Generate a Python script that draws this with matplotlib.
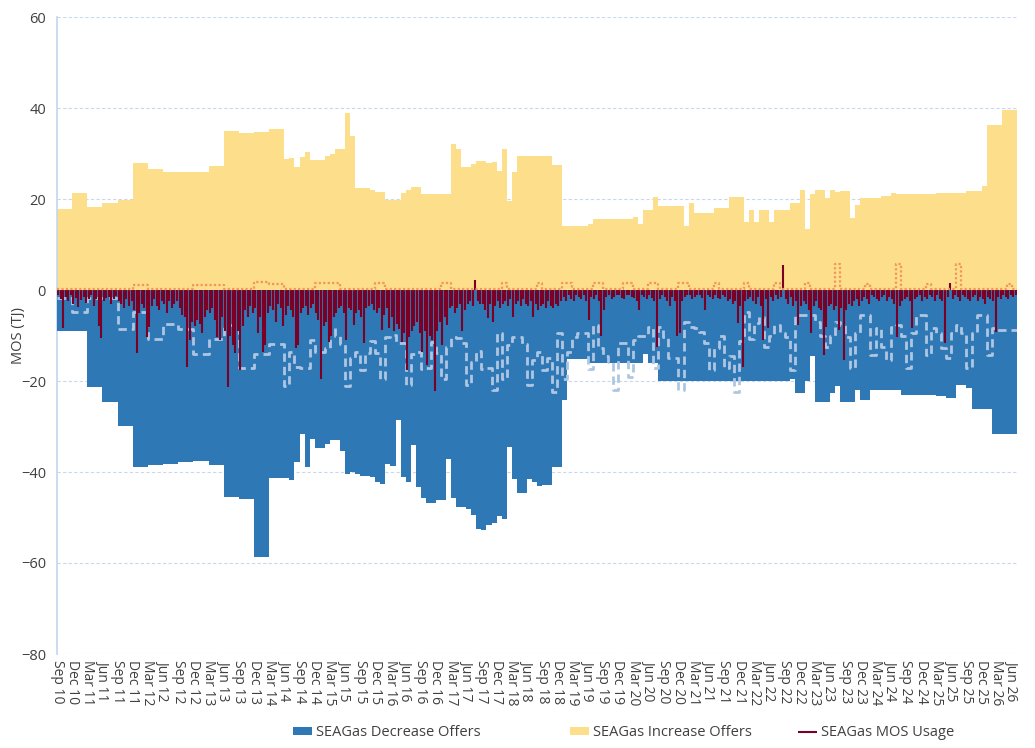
import numpy as np
import matplotlib
matplotlib.use("Agg")
import matplotlib.pyplot as plt

plt.rcParams['font.family'] = ['Open Sans', 'DejaVu Sans']

# monthly values, first month = Sep 2010, last month = Jun 2026
increase_offers = [
    17.8, 17.8, 17.8, 21.3, 21.3, 21.3, 18.2, 18.2, 18.2, 19.1, 19.1, 19.1,
    19.8, 19.8, 19.8, 27.9, 27.9, 27.9, 26.6, 26.6, 26.6, 25.9, 25.9, 25.9,
    25.9, 25.9, 25.9, 25.9, 25.9, 25.9, 27.2, 27.2, 27.2, 34.9, 34.9, 34.9,
    34.5, 34.5, 34.5, 34.7, 34.7, 34.7, 35.4, 35.4, 35.4, 28.8, 29.0, 27.0,
    29.2, 30.3, 28.6, 28.6, 28.6, 29.4, 29.9, 31.0, 31.0, 38.9, 33.8, 22.4,
    22.4, 22.4, 22.0, 21.5, 21.5, 19.8, 19.8, 19.8, 21.3, 22.0, 22.6, 22.6,
    21.1, 21.1, 21.1, 21.1, 21.1, 21.1, 32.1, 31.0, 27.0, 27.0, 27.7, 28.4,
    28.4, 27.9, 28.1, 26.2, 31.0, 19.6, 25.9, 29.4, 29.4, 29.4, 29.4, 29.4,
    29.4, 29.4, 27.5, 27.5, 14.1, 14.1, 14.1, 14.1, 14.1, 14.5, 15.6, 15.6,
    15.6, 15.6, 15.6, 15.6, 15.6, 15.6, 16.0, 14.5, 17.6, 17.6, 20.4, 18.5,
    18.5, 18.5, 18.5, 18.5, 14.1, 19.1, 16.9, 16.9, 16.9, 16.9, 18.0, 18.0,
    18.0, 20.4, 20.4, 20.4, 14.9, 17.6, 14.9, 17.6, 17.6, 14.9, 17.6, 17.6,
    17.6, 19.1, 19.1, 22.0, 13.4, 21.1, 22.0, 22.0, 20.2, 22.0, 21.5, 21.8,
    21.8, 15.8, 18.7, 20.2, 20.2, 20.2, 20.2, 20.6, 20.6, 21.3, 21.1, 21.1,
    21.1, 21.1, 21.1, 21.1, 21.1, 21.1, 21.3, 21.3, 21.3, 21.3, 21.3, 21.3,
    21.8, 21.8, 21.8, 22.9, 36.3, 36.3, 36.3, 39.6, 39.6, 39.6,
]

decrease_offers = [
    -9.0, -9.0, -9.0, -9.0, -9.0, -9.0, -21.3, -21.3, -21.3, -24.6, -24.6, -24.6,
    -29.9, -29.9, -29.9, -38.9, -38.9, -38.9, -38.5, -38.5, -38.5, -38.2, -38.2, -38.2,
    -37.8, -37.8, -37.8, -37.6, -37.6, -37.6, -38.5, -38.5, -38.5, -45.5, -45.5, -45.5,
    -45.9, -45.9, -45.9, -58.7, -58.7, -58.7, -41.3, -41.3, -41.3, -41.3, -41.8, -37.8,
    -31.7, -38.9, -32.8, -34.7, -34.7, -33.8, -33.0, -33.0, -35.4, -40.4, -40.0, -40.4,
    -40.9, -40.9, -41.1, -42.2, -42.6, -38.2, -38.7, -28.6, -41.1, -42.2, -34.1, -43.3,
    -45.7, -46.8, -46.8, -46.2, -46.2, -37.2, -45.7, -47.7, -47.7, -48.1, -49.5, -52.5,
    -52.7, -51.6, -51.2, -49.7, -50.3, -34.5, -41.5, -44.6, -44.6, -41.5, -42.2, -43.1,
    -42.9, -42.9, -38.9, -38.9, -24.2, -15.2, -15.2, -15.2, -15.2, -16.0, -16.0, -16.0,
    -16.0, -16.0, -16.0, -16.0, -16.0, -16.0, -16.0, -16.0, -14.1, -16.0, -16.0, -20.0,
    -20.0, -20.0, -20.0, -20.0, -20.0, -20.0, -20.0, -20.0, -20.0, -20.0, -20.0, -20.0,
    -20.0, -20.0, -20.0, -20.0, -20.0, -20.0, -20.0, -20.0, -20.0, -20.0, -20.0, -20.0,
    -20.0, -19.6, -22.6, -22.6, -20.0, -14.5, -24.6, -24.6, -24.6, -22.6, -21.1, -24.6,
    -24.6, -24.6, -22.0, -24.2, -24.2, -22.0, -22.0, -22.0, -22.0, -22.0, -22.0, -23.1,
    -23.1, -23.1, -23.1, -23.1, -23.1, -23.1, -23.3, -23.3, -23.7, -23.7, -20.9, -20.9,
    -21.5, -26.2, -26.2, -26.2, -26.2, -31.6, -31.6, -31.6, -31.6, -31.6,
]

# light dashed step series (no legend entry)
dashed_series = [
    -1.7, -1.7, -1.7, -4.9, -4.9, -4.9, -1.7, -1.7, -1.7, -1.7, -1.7, -1.7,
    -8.6, -8.6, -8.6, -4.8, -4.8, -4.8, -10.8, -10.8, -10.8, -7.5, -7.5, -7.5,
    -8.5, -8.5, -8.5, -14.0, -14.0, -14.0, -10.7, -10.7, -10.7, -7.7, -7.7, -7.7,
    -17.1, -17.1, -17.1, -14.0, -14.0, -14.0, -11.9, -11.9, -11.9, -21.0, -13.6, -17.0,
    -17.2, -17.2, -11.0, -13.6, -13.6, -12.8, -8.1, -10.0, -11.9, -21.1, -15.0, -13.6,
    -17.6, -13.9, -11.1, -13.9, -19.6, -10.4, -9.9, -11.6, -11.6, -20.9, -14.0, -13.6,
    -17.4, -17.2, -11.4, -13.9, -19.6, -12.5, -10.3, -10.6, -11.6, -20.9, -15.8, -13.4,
    -17.4, -17.2, -22.0, -9.4, -19.6, -12.0, -10.3, -10.4, -11.9, -20.9, -15.4, -13.6,
    -17.6, -15.0, -22.4, -9.5, -19.6, -13.6, -10.3, -9.4, -9.5, -17.4, -7.7, -12.8,
    -14.6, -15.9, -22.0, -11.6, -11.6, -19.1, -11.0, -10.0, -10.0, -8.1, -17.2, -8.1,
    -10.3, -15.0, -15.0, -22.0, -7.0, -8.1, -8.4, -9.2, -11.6, -17.6, -12.8, -10.0,
    -17.2, -14.6, -22.4, -11.2, -4.8, -10.8, -7.3, -5.9, -12.5, -10.0, -7.7, -9.5,
    -10.3, -17.6, -5.5, -5.5, -5.5, -5.5, -7.0, -10.0, -12.5, -10.0, -7.0, -7.7,
    -10.3, -17.2, -9.4, -5.5, -5.5, -14.3, -8.4, -12.5, -15.4, -8.1, -7.7, -10.0,
    -17.2, -9.5, -5.5, -5.5, -14.3, -8.4, -9.5, -12.8, -15.0, -9.5, -7.7, -9.5,
    -17.2, -9.5, -5.5, -5.5, -14.3, -8.4, -8.8, -8.8, -8.8, -8.8,
]

# orange dotted step series (no legend entry)
dotted_series = [
    0.3, 0.3, 0.3, 0.3, 0.3, 0.3, 0.3, 0.3, 0.3, 0.3, 0.3, 0.3,
    0.3, 0.3, 0.3, 1.1, 1.1, 1.1, 0.3, 0.3, 0.3, 0.3, 0.3, 0.3,
    0.3, 0.3, 0.3, 1.1, 1.1, 1.1, 1.1, 1.1, 1.1, 0.3, 0.3, 0.3,
    0.3, 0.3, 0.3, 1.7, 1.7, 1.7, 1.4, 1.4, 1.4, 0.3, 0.3, 0.3,
    0.3, 0.3, 0.3, 1.5, 1.5, 1.5, 1.5, 1.5, 0.3, 0.3, 0.3, 0.3,
    0.3, 0.3, 0.3, 1.5, 1.5, 0.3, 0.3, 0.3, 0.3, 0.3, 0.3, 0.3,
    0.3, 0.3, 0.3, 0.3, 1.5, 1.5, 0.3, 0.3, 0.3, 0.3, 0.3, 0.3,
    0.3, 0.3, 0.3, 0.3, 1.5, 0.3, 0.3, 0.3, 0.3, 0.3, 0.3, 1.5,
    0.3, 0.3, 0.3, 0.3, 1.5, 1.5, 0.3, 0.3, 0.3, 0.3, 1.5, 1.5,
    0.3, 0.3, 0.3, 0.3, 1.5, 1.5, 0.3, 0.3, 0.3, 1.5, 1.5, 0.3,
    0.3, 0.3, 0.3, 1.5, 1.5, 0.3, 0.3, 0.3, 0.3, 0.3, 1.5, 0.3,
    0.3, 0.3, 0.3, 0.3, 1.5, 0.3, 0.3, 0.3, 0.3, 0.3, 1.5, 0.3,
    0.3, 0.3, 0.3, 0.3, 1.5, 0.3, 0.3, 0.3, 0.3, 0.3, 5.7, 0.3,
    0.3, 0.3, 0.3, 0.3, 1.3, 0.3, 0.3, 0.3, 0.3, 0.3, 5.7, 0.3,
    0.3, 0.3, 0.3, 0.3, 1.3, 0.3, 0.3, 0.3, 0.3, 0.3, 5.7, 0.3,
    0.3, 0.3, 0.3, 0.3, 0.3, 0.3, 0.3, 0.3, 1.3, 0.3,
]

# MOS usage, two readings per month
mos_usage = [
    -1.2, -2.0, -8.4, -1.5, -2.5, -1.0, -3.0, -1.8, -3.7, -2.2, -1.5, -2.8,
    -2.0, -1.2, -3.5, -2.0, -8.0, -10.6, -2.5, -1.8, -1.5, -3.0, -2.0, -1.3,
    -2.5, -3.0, -4.0, -2.0, -3.5, -2.5, -4.5, -13.9, -5.0, -3.0, -4.0, -10.3,
    -8.1, -3.5, -2.0, -3.5, -4.5, -2.5, -3.0, -5.0, -2.5, -4.0, -3.0, -2.5,
    -4.0, -5.5, -6.0, -16.9, -11.0, -7.0, -8.0, -6.5, -7.5, -9.5, -6.0, -4.5,
    -5.0, -4.0, -6.5, -10.3, -11.0, -6.0, -9.0, -21.3, -10.0, -12.0, -13.8, -9.0,
    -17.6, -8.0, -4.5, -6.0, -3.5, -5.0, -4.0, -9.5, -6.0, -13.6, -12.1, -5.0,
    -3.5, -4.5, -7.0, -3.0, -4.0, -8.0, -5.5, -3.5, -4.5, -6.0, -12.8, -12.1,
    -5.0, -4.0, -3.5, -5.5, -4.0, -3.0, -5.0, -6.5, -19.6, -8.0, -7.0, -11.4,
    -10.0, -6.0, -5.0, -4.0, -3.5, -5.0, -11.0, -4.0, -4.5, -7.7, -5.0, -4.5,
    -6.0, -11.6, -4.0, -3.5, -3.0, -4.5, -5.0, -4.0, -8.8, -5.5, -4.0, -8.4,
    -6.0, -9.0, -7.5, -8.5, -11.4, -9.5, -17.6, -10.3, -9.0, -8.0, -7.0, -9.5,
    -13.6, -9.0, -16.5, -10.0, -11.0, -22.3, -9.0, -7.0, -12.0, -6.0, -7.7, -4.0,
    -3.5, -5.0, -4.0, -3.0, -9.1, -4.5, -3.0, -2.5, -3.5, 2.2, -2.5, -3.0,
    -3.0, -4.5, -6.2, -3.0, -7.1, -3.5, -2.5, -4.0, -3.0, -2.5, -3.5, -2.0,
    -5.9, -3.0, -2.5, -3.5, -2.0, -3.0, -3.5, -2.5, -6.0, -3.0, -4.5, -3.5,
    -3.0, -4.0, -2.5, -3.5, -4.0, -3.0, -3.5, -2.5, -1.5, -2.5, -1.2, -2.0,
    -2.5, -1.0, -1.5, -2.0, -1.2, -2.5, -6.6, -1.5, -2.0, -1.2, -2.5, -10.0,
    -4.4, -1.5, -1.2, -2.0, -1.5, -1.0, -1.2, -1.8, -2.0, -1.0, -1.0, -1.5,
    -1.8, -2.5, -4.4, -1.2, -1.5, -2.0, -1.2, -1.8, -2.5, -12.5, -2.0, -1.2,
    -1.5, -2.5, -3.5, -1.5, -2.5, -10.0, -9.4, -2.5, -1.5, -1.2, -1.0, -2.0,
    -1.5, -1.2, -1.2, -1.8, -4.4, -1.0, -1.5, -2.0, -1.2, -1.8, -2.0, -1.0,
    -1.5, -2.5, -2.0, -3.0, -2.5, -7.3, -3.5, -16.9, -2.5, -2.0, -1.5, -2.5,
    -3.0, -1.5, -3.5, -11.0, -2.0, -8.4, -1.5, -2.5, -1.2, -2.0, -1.5, 5.5,
    -2.0, -3.0, -1.5, -3.5, -2.5, -7.7, -3.5, -2.5, -3.0, -4.5, -9.5, -3.5,
    -2.5, -4.0, -4.5, -14.3, -8.1, -3.5, -3.0, -4.5, -3.5, -8.8, -4.0, -15.4,
    -4.5, -3.0, -3.5, -2.5, -2.0, -3.5, -2.5, -1.5, -2.0, -3.0, -1.2, -1.5,
    -2.0, -2.5, -1.5, -1.2, -2.5, -1.5, -2.0, -3.0, -10.3, -3.5, -2.5, -2.0,
    -1.5, -2.5, -8.4, -2.0, -1.5, -1.2, -2.5, -1.5, -2.0, -1.2, -1.5, -2.5,
    -1.2, -2.0, -2.5, -11.6, -1.5, 1.5, -2.0, -1.2, -1.5, -2.5, -1.2, -1.5,
    -2.0, -2.5, -1.5, -1.2, -2.5, -1.5, -2.0, -3.0, -1.5, -2.0, -2.5, -9.2,
    -1.5, -2.0, -1.2, -1.5, -2.0, -1.2, -1.5, -1.0,
]

tick_months = ['Sep', 'Dec', 'Mar', 'Jun']

n = len(increase_offers)
edges = np.arange(n + 1)
tick_labels = []
for i in range(0, n, 3):
    yr = 10 + (i + 8) // 12
    tick_labels.append(f"{tick_months[(i // 3) % 4]} {yr:02d}")

fig = plt.figure(figsize=(10.35, 7.48), dpi=100)
ax = fig.add_axes([57 / 1035, 1 - 654 / 748, 960 / 1035, 637 / 748])

inc = ax.fill_between(edges, 0, np.append(increase_offers, increase_offers[-1]),
                      step='post', color='#FDDE8A', lw=0, zorder=2)
dec = ax.fill_between(edges, 0, np.append(decrease_offers, decrease_offers[-1]),
                      step='post', color='#2E79B5', lw=0, zorder=3)
ax.step(edges, np.append(dashed_series, dashed_series[-1]), where='post',
        color='#AFC6E2', lw=2, ls=(0, (3, 1.8)), zorder=4)
mos_x = np.arange(len(mos_usage)) * 0.5 + 0.25
mos = ax.vlines(mos_x, 0, mos_usage, color='#7A0026', lw=1.5, zorder=5)
ax.step(edges, np.append(dotted_series, dotted_series[-1]), where='post',
        color='#F2955E', lw=1.6, ls=(0, (1, 1)), zorder=6)

ax.set_xlim(0, n)
ax.set_ylim(-80, 60)
ax.set_yticks(np.arange(-80, 61, 20))
ax.set_xticks(np.arange(0, n, 3))
ax.set_xticklabels(tick_labels, rotation=-90, fontsize=10, color='#404040')
ax.tick_params(axis='y', labelsize=10.5, labelcolor='#404040', length=0, pad=8)
ax.tick_params(axis='x', length=0, pad=4)
ax.grid(axis='y', color='#C9D8EE', ls=(0, (3, 2)), lw=0.8)
ax.set_axisbelow(True)
for s in ['top', 'right', 'bottom']:
    ax.spines[s].set_visible(False)
ax.spines['left'].set_color('#C5D6EE')
ax.spines['left'].set_linewidth(1.2)
ax.set_ylabel('MOS (TJ)', fontsize=10.5, color='#404040', labelpad=-3.5)

leg_kw = dict(frameon=False, fontsize=10.5, loc='center left',
              handlelength=1.3, handleheight=0.5, handletextpad=0.3,
              labelcolor='#404040')
fig.legend([dec], ['SEAGas Decrease Offers'], bbox_to_anchor=(280 / 1035, 1 - 733 / 748), **leg_kw)
fig.legend([inc], ['SEAGas Increase Offers'], bbox_to_anchor=(557 / 1035, 1 - 733 / 748), **leg_kw)
fig.legend([mos], ['SEAGas MOS Usage'], bbox_to_anchor=(785 / 1035, 1 - 733 / 748), **leg_kw)

fig.savefig('out.png', dpi=100)
